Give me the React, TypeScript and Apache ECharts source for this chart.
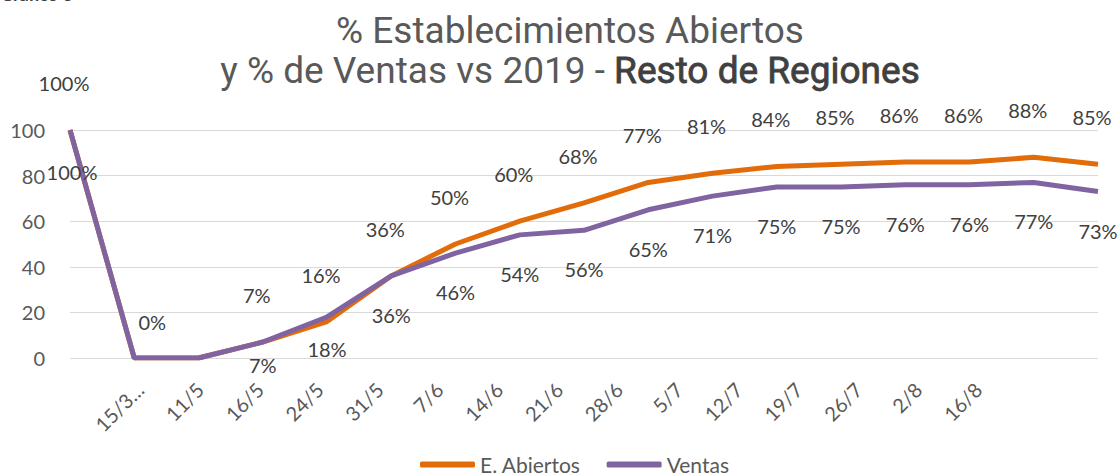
import React, { useEffect, useRef } from "react";
import * as echarts from "echarts";

const pointDates = ["2019", "15/3", "11/5", "16/5", "24/5", "31/5", "7/6", "14/6", "21/6", "28/6", "5/7", "12/7", "19/7", "26/7", "2/8", "16/8", "23/8"];
const axisLabels = ["15/3…", "11/5", "16/5", "24/5", "31/5", "7/6", "14/6", "21/6", "28/6", "5/7", "12/7", "19/7", "26/7", "2/8", "16/8"];
const abiertos = [100, 0, 0, 7, 16, 36, 50, 60, 68, 77, 81, 84, 85, 86, 86, 88, 85];
const ventas = [100, 0, 0, 7, 18, 36, 46, 54, 56, 65, 71, 75, 75, 76, 76, 77, 73];
const yTicks = [0, 20, 40, 60, 80, 100];

const ORANGE = "#E36C0A";
const PURPLE = "#8064A2";

export default function App() {
  const ref = useRef<HTMLDivElement>(null);
  useEffect(() => {
    if (!ref.current) return;
    const chart = echarts.init(ref.current, undefined, { renderer: "svg" });

    const aOverrides: Record<number, any> = {
      1: { distance: 26, offset: [18, 0] },
      2: { show: false },
    };
    const vOverrides: Record<number, any> = {
      0: { distance: 32, offset: [2, 0] },
      1: { show: false },
      2: { show: false },
      3: { distance: 13 },
      4: { distance: 22 },
    };
    const aData = abiertos.map((v, i) => (aOverrides[i] ? { value: v, label: aOverrides[i] } : v));
    const vData = ventas.map((v, i) => (vOverrides[i] ? { value: v, label: vOverrides[i] } : v));

    const labelStyle = { fontSize: 20, color: "#404040", fontFamily: "Lato", formatter: "{c}%" };

    chart.setOption({
      animation: false,
      textStyle: { fontFamily: "Lato" },
      grid: [
        { left: 70, right: 20, top: 130, bottom: 117 },
        { left: 140, right: 140, top: 130, bottom: 117 },
      ],
      xAxis: [
        {
          type: "category", gridIndex: 0, data: pointDates, boundaryGap: false,
          axisLine: { show: false }, axisTick: { show: false }, axisLabel: { show: false }, splitLine: { show: false },
        },
        {
          type: "category", gridIndex: 1, data: axisLabels, boundaryGap: false,
          axisLine: { show: false }, axisTick: { show: false }, splitLine: { show: false },
          axisLabel: { rotate: 45, margin: 28, fontSize: 20, color: "#595959", fontFamily: "Lato", interval: 0 },
        },
      ],
      yAxis: [
        {
          type: "value", gridIndex: 0, min: yTicks[0], max: yTicks[yTicks.length - 1], interval: 20,
          axisLabel: { fontSize: 20, color: "#595959", margin: 25, fontFamily: "Lato" },
          splitLine: { lineStyle: { color: "#d9d9d9", width: 1 } },
          axisLine: { show: false }, axisTick: { show: false },
        },
        { type: "value", gridIndex: 1, show: false },
      ],
      legend: {
        data: ["E. Abiertos", "Ventas"],
        left: 415, top: 449,
        icon: "roundRect", itemWidth: 55, itemHeight: 6, itemGap: 26,
        textStyle: { fontSize: 21, color: "#595959", fontFamily: "Lato" },
      },
      graphic: [
        {
          type: "text", left: 0, top: -15,
          style: { text: "Gráfico 3", fontSize: 18, fontWeight: "bold", fill: "#404040", fontFamily: "Lato" },
        },
        {
          type: "text", x: 570, y: 30,
          style: { text: "% Establecimientos Abiertos", align: "center", verticalAlign: "middle", fontSize: 37, fontFamily: "Roboto", fill: "#595959" },
        },
        {
          type: "text", x: 570, y: 70,
          style: {
            text: "{n|y % de Ventas vs 2019 - }{b|Resto de Regiones}",
            align: "center", verticalAlign: "middle",
            rich: {
              n: { fontSize: 37, fontFamily: "Roboto", fill: "#595959" },
              b: { fontSize: 37, fontFamily: "Roboto", fontWeight: "normal", fill: "#404040", stroke: "#404040", lineWidth: 0.8 },
            },
          },
        },
      ],
      series: [
        {
          name: "E. Abiertos", type: "line", xAxisIndex: 0, yAxisIndex: 0, data: aData,
          symbol: "circle", symbolSize: 0.01, showSymbol: true,
          lineStyle: { color: ORANGE, width: 5 }, itemStyle: { color: ORANGE },
          label: { show: true, position: "top", distance: 37, offset: [-6, 0], ...labelStyle },
        },
        {
          name: "Ventas", type: "line", xAxisIndex: 0, yAxisIndex: 0, data: vData,
          symbol: "circle", symbolSize: 0.01, showSymbol: true,
          lineStyle: { color: PURPLE, width: 5 }, itemStyle: { color: PURPLE },
          label: { show: true, position: "bottom", distance: 29, ...labelStyle },
        },
      ],
    });
    return () => chart.dispose();
  }, []);
  return <div ref={ref} style={{ position: "fixed", left: 0, top: 0, width: 1118, height: 475, background: "#fff" }} />;
}
